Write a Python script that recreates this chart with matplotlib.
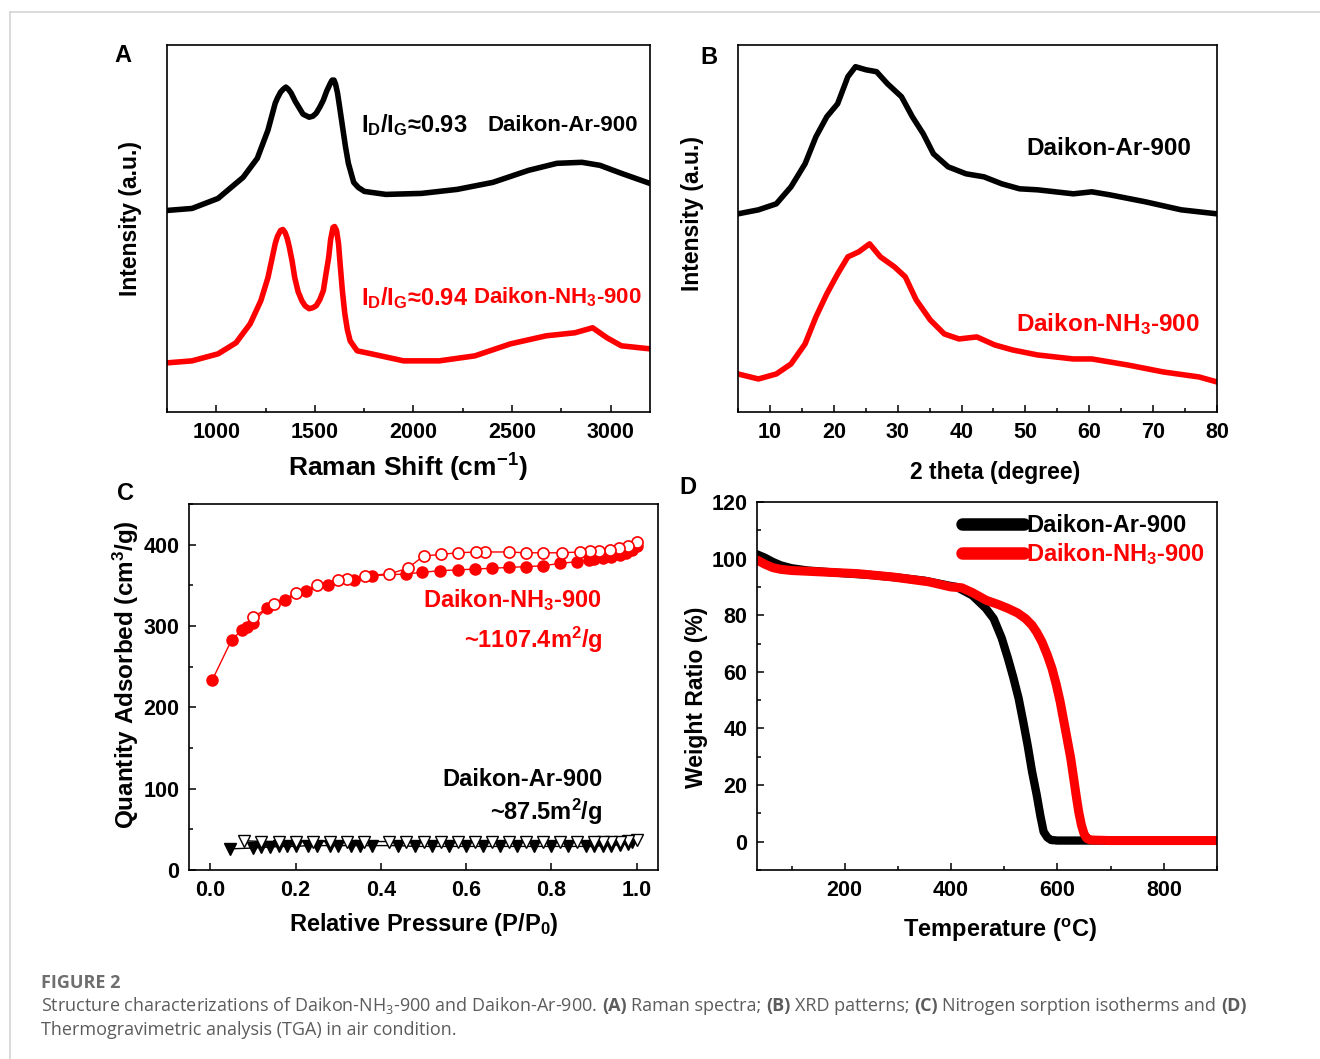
import matplotlib
matplotlib.use('Agg')
import matplotlib.pyplot as plt
from matplotlib.ticker import MultipleLocator, NullLocator, FormatStrFormatter
from matplotlib.lines import Line2D

plt.rcParams['font.family'] = ['Liberation Sans', 'DejaVu Sans']
plt.rcParams['font.weight'] = 'bold'
plt.rcParams['axes.labelweight'] = 'bold'
plt.rcParams['mathtext.default'] = 'regular'
plt.rcParams['axes.linewidth'] = 1.2

# ---- (A) Raman spectra, intensity in arbitrary units ----
raman_shift_ar = [750, 877, 1009, 1136, 1208, 1262, 1299, 1310, 1326, 1340, 1353, 1365,
                  1380, 1400, 1440, 1471, 1490, 1507, 1525, 1543, 1560, 1579, 1588, 1597,
                  1605, 1615, 1625, 1643, 1655, 1670, 1697, 1720, 1751, 1860, 2041, 2222,
                  2403, 2584, 2728, 2855, 2946, 3055, 3199]
raman_int_ar = [201, 203, 213, 234, 253, 281, 308, 313, 319, 322, 324, 322,
                318, 310, 297, 294, 295, 298, 304, 311, 320, 328, 331, 331,
                327, 318, 305, 281, 265, 248, 229, 224, 220, 217, 218, 222,
                229, 241, 248, 249, 246, 238, 228]
raman_shift_nh3 = [750, 877, 1009, 1100, 1172, 1226, 1262, 1299, 1310, 1326, 1338, 1349,
                   1360, 1371, 1385, 1398, 1415, 1434, 1450, 1471, 1490, 1507, 1525, 1543,
                   1555, 1570, 1580, 1592, 1600, 1610, 1620, 1628, 1640, 1652, 1665, 1679,
                   1700, 1715, 1787, 1950, 2131, 2312, 2493, 2674, 2819, 2909, 2982, 3055,
                   3199]
raman_int_nh3 = [49, 51, 58, 69, 88, 111, 134, 168, 175, 181, 182, 179,
                 173, 164, 150, 134, 120, 111, 106, 103, 104, 106, 112, 121,
                 136, 154, 172, 184, 185, 181, 168, 148, 120, 98, 82, 71,
                 65, 61, 58, 51, 51, 56, 68, 76, 79, 84, 74, 66,
                 63]

# ---- (B) XRD patterns ----
theta_ar = [5, 8.2, 11, 13.3, 15.5, 17.2, 18.9, 20.6, 22.2, 23.4, 25, 26.7, 28.4, 30.6,
            32.3, 34, 35.6, 37.9, 40.7, 43.5, 46.3, 49.1, 51.9, 57.5, 60.4, 63.2, 68.8,
            74.4, 80]
xrd_ar = [198, 202, 208, 225, 248, 275, 295, 308, 335, 345, 342, 340, 328, 315,
          295, 278, 258, 245, 238, 235, 228, 223, 222, 218, 220, 217, 210,
          202, 198]
theta_nh3 = [5, 8.2, 11, 13.3, 15.5, 17.2, 18.9, 20.6, 22.2, 23.9, 25.6, 27.3, 29.5,
             31.2, 32.9, 35.1, 37.3, 39.6, 42.4, 45.2, 48, 51.9, 57.5, 60.4, 66, 71.6,
             77.2, 80]
xrd_nh3 = [38, 33, 38, 48, 68, 95, 118, 138, 155, 160, 168, 155, 145,
           135, 112, 92, 78, 73, 75, 67, 62, 57, 53, 53, 47, 40,
           35, 30]

# ---- (C) N2 sorption isotherms ----
p_ads_nh3 = [0.005, 0.05, 0.074, 0.086, 0.099, 0.132, 0.174, 0.225, 0.275, 0.338, 0.38,
             0.46, 0.497, 0.539, 0.58, 0.62, 0.66, 0.70, 0.74, 0.78, 0.82, 0.86, 0.887,
             0.90, 0.92, 0.94, 0.96, 0.975, 0.99, 1.0]
q_ads_nh3 = [234, 283, 295, 299, 304, 322, 332, 343, 351, 357, 362,
             364, 366, 368, 369, 370, 371, 372, 373, 374, 377, 379, 381,
             382, 383, 385, 387, 390, 394, 398]
p_des_nh3 = [1.0, 0.98, 0.958, 0.937, 0.912, 0.89, 0.866, 0.824, 0.78, 0.74, 0.70, 0.644,
             0.623, 0.58, 0.54, 0.50, 0.463, 0.42, 0.363, 0.32, 0.30, 0.25, 0.20, 0.15,
             0.10]
q_des_nh3 = [403, 398, 396, 394, 392, 392, 391, 390, 390, 390, 391, 391,
             391, 390, 388, 386, 371, 364, 362, 358, 357, 350, 340, 327,
             311]
p_ads_ar = [0.045, 0.10, 0.12, 0.14, 0.16, 0.18, 0.20, 0.23, 0.25, 0.28, 0.30, 0.33,
            0.35, 0.38, 0.44, 0.48, 0.52, 0.56, 0.60, 0.64, 0.68, 0.72, 0.76, 0.80,
            0.84, 0.88, 0.90, 0.92, 0.94, 0.96, 0.98, 0.99]
q_ads_ar = [26, 27, 28, 28, 29, 29, 29, 30, 30, 30, 30, 30,
            30, 30, 30, 29, 29, 29, 29, 29, 29, 29, 29, 29,
            29, 29, 29, 30, 30, 31, 32, 34]
p_des_ar = [1.0, 0.98, 0.96, 0.94, 0.92, 0.90, 0.86, 0.82, 0.78, 0.74, 0.70, 0.66,
            0.62, 0.58, 0.54, 0.50, 0.46, 0.42, 0.36, 0.32, 0.28, 0.24, 0.20, 0.16,
            0.12, 0.08]
q_des_ar = [37, 36, 35, 35, 35, 35, 35, 35, 35, 35, 35, 35,
            35, 35, 35, 35, 35, 35, 35, 35, 35, 35, 35, 35,
            35, 36]

# ---- (D) TGA ----
temp_ar = [35, 50, 65, 80, 100, 130, 200, 250, 300, 350, 400, 410, 440, 465, 480, 495,
           507, 517, 527, 536, 544, 552, 561, 568, 574, 581, 588, 600, 700, 800, 900]
weight_ar = [101.5, 100.3, 98.8, 97.6, 96.6, 95.8, 94.8, 94.2, 93.3, 92.2, 90.3, 90, 87,
             82.5, 78.8, 72, 64.7, 58, 50.6, 42, 34, 25, 16.5, 9, 3.5, 1.5, 0.6, 0.4,
             0.4, 0.4, 0.4]
temp_nh3 = [35, 50, 65, 80, 100, 156, 224, 291, 358, 399, 420, 440, 466, 490, 507, 525,
            540, 552, 561, 571, 581, 590, 598, 605, 611, 618, 625, 630, 635, 640, 645,
            650, 655, 662, 700, 800, 900]
weight_nh3 = [99.5, 98, 96.8, 96.2, 95.8, 95.3, 94.7, 93.5, 91.8, 90, 89.7, 88, 85.3,
              83.7, 82.4, 80.8, 78.8, 76.5, 74, 70.5, 65.9, 61, 55.3, 49.5, 43.5, 36.5,
              29.4, 23, 16.5, 10.5, 5.9, 2.8, 1.2, 0.6, 0.4, 0.4, 0.4]

RED = '#ff0000'
W, H = 1320, 1059
fig = plt.figure(figsize=(W / 100, H / 100), dpi=100)


def box(l, t, r, b):
    return [l / W, 1 - b / H, (r - l) / W, (b - t) / H]


def fig_txt(x, y, s, **kw):
    return fig.text(x / W, 1 - y / H, s, **kw)


def style(ax, fs=15.5):
    ax.tick_params(which='both', direction='in', top=False, right=False, labelsize=fs, width=1.1)
    ax.tick_params(which='major', length=5, pad=7)
    ax.tick_params(which='minor', length=3)


def place_labels(ax, bx, xl, yl):
    l, t, r, b = bx
    ax.xaxis.set_label_coords((xl[0] - l) / (r - l), (b - xl[1]) / (b - t))
    ax.xaxis.label.set_va('center')
    ax.yaxis.set_label_coords((yl[0] - l) / (r - l), (b - yl[1]) / (b - t))
    ax.yaxis.label.set_va('center')


# panel A
bxA = (167, 45, 650, 412)
axA = fig.add_axes(box(*bxA))
axA.plot(raman_shift_ar, raman_int_ar, color='black', lw=4, solid_joinstyle='round')
axA.plot(raman_shift_nh3, raman_int_nh3, color=RED, lw=4, solid_joinstyle='round')
axA.set_xlim(750, 3200)
axA.set_ylim(0, 366)
axA.xaxis.set_major_locator(MultipleLocator(500))
axA.xaxis.set_minor_locator(MultipleLocator(250))
axA.yaxis.set_major_locator(NullLocator())
style(axA)
axA.set_xlabel('Raman Shift (cm$^{-1}$)', fontsize=19)
axA.set_ylabel('Intensity (a.u.)', fontsize=16.5)
place_labels(axA, bxA, (408, 468), (131, 218))
axA.text(1733, 286, 'I$_D$/I$_G$≈0.93', fontsize=17, va='center')
axA.text(2376, 286, 'Daikon-Ar-900', fontsize=16, va='center')
axA.text(1733, 114, 'I$_D$/I$_G$≈0.94', fontsize=17, va='center', color=RED)
axA.text(2303, 114, 'Daikon-NH$_3$-900', fontsize=16, va='center', color=RED)

# panel B
bxB = (738, 45, 1217, 412)
axB = fig.add_axes(box(*bxB))
axB.plot(theta_ar, xrd_ar, color='black', lw=4, solid_joinstyle='round')
axB.plot(theta_nh3, xrd_nh3, color=RED, lw=4, solid_joinstyle='round')
axB.set_xlim(5, 80)
axB.set_ylim(0, 366.7)
axB.xaxis.set_major_locator(MultipleLocator(10))
axB.xaxis.set_minor_locator(MultipleLocator(5))
axB.yaxis.set_major_locator(NullLocator())
style(axB)
axB.set_xlabel('2 theta (degree)', fontsize=16.5)
axB.set_ylabel('Intensity (a.u.)', fontsize=16.5)
place_labels(axB, bxB, (995, 472), (693, 213))
axB.text(50.2, 263, 'Daikon-Ar-900', fontsize=17.5, va='center')
axB.text(48.5, 88, 'Daikon-NH$_3$-900', fontsize=17.5, va='center', color=RED)

# panel C
bxC = (189, 504, 658, 870)
axC = fig.add_axes(box(*bxC))
axC.plot(p_ads_nh3, q_ads_nh3, '-o', color=RED, lw=1, ms=8, mfc=RED, mec=RED)
axC.plot(p_des_nh3, q_des_nh3, '-o', color=RED, lw=1, ms=8, mfc='white', mec=RED, mew=1.2)
axC.plot(p_ads_ar, q_ads_ar, '-v', color='black', lw=1, ms=8, mfc='black', mec='black')
axC.plot(p_des_ar, q_des_ar, '-v', color='black', lw=1, ms=8, mfc='white', mec='black', mew=1)
axC.set_xlim(-0.05, 1.05)
axC.set_ylim(0, 450)
axC.xaxis.set_major_locator(MultipleLocator(0.2))
axC.xaxis.set_major_formatter(FormatStrFormatter('%.1f'))
axC.yaxis.set_minor_locator(MultipleLocator(50))
axC.set_yticks([0, 100, 200, 300, 400])
style(axC)
axC.set_xlabel('Relative Pressure (P/P$_0$)', fontsize=17)
axC.set_ylabel('Quantity Adsorbed (cm$^3$/g)', fontsize=17.5)
place_labels(axC, bxC, (424, 925), (126, 675))
axC.text(0.92, 332, 'Daikon-NH$_3$-900', fontsize=17, ha='right', va='center', color=RED)
axC.text(0.92, 283, '~1107.4m$^2$/g', fontsize=17, ha='right', va='center', color=RED)
axC.text(0.92, 111, 'Daikon-Ar-900', fontsize=17, ha='right', va='center')
axC.text(0.92, 72, '~87.5m$^2$/g', fontsize=17, ha='right', va='center')

# panel D
bxD = (757, 502, 1217, 870)
axD = fig.add_axes(box(*bxD))
axD.plot(temp_ar, weight_ar, color='black', lw=6, solid_capstyle='round',
         solid_joinstyle='round', label='Daikon-Ar-900')
axD.plot(temp_nh3, weight_nh3, color=RED, lw=6.5, solid_capstyle='round',
         solid_joinstyle='round', label='Daikon-NH$_3$-900')
axD.set_xlim(35, 900)
axD.set_ylim(-10, 120)
axD.xaxis.set_major_locator(MultipleLocator(200))
axD.xaxis.set_minor_locator(MultipleLocator(100))
axD.yaxis.set_major_locator(MultipleLocator(20))
axD.yaxis.set_minor_locator(MultipleLocator(10))
style(axD)
axD.set_xlabel('Temperature ($^{o}$C)', fontsize=17)
axD.set_ylabel('Weight Ratio (%)', fontsize=16.5)
place_labels(axD, bxD, (1000, 930), (697, 697))
leg = axD.legend(loc='upper right', frameon=False, fontsize=17, handlelength=2.6,
                 handletextpad=0.1, borderaxespad=0.1, labelspacing=0.2, labelcolor='linecolor')
for h in leg.legend_handles:
    h.set_linewidth(9)
    h.set_solid_capstyle('round')

for lab, (x, y) in zip('ABCD', [(123, 55), (709, 57), (125, 493), (688, 487)]):
    fig_txt(x, y, lab, fontsize=17, ha='center', va='center')

# outer page frame
fig.add_artist(Line2D([10 / W, 1], [1 - 12 / H, 1 - 12 / H], transform=fig.transFigure,
                      color='#d4d4d4', lw=1.2))
fig.add_artist(Line2D([10 / W, 10 / W], [1 - 12 / H, 0], transform=fig.transFigure,
                      color='#d4d4d4', lw=1.2))

# caption
renderer = fig.canvas.get_renderer()
CAP = dict(family=['Open Sans', 'DejaVu Sans'], fontsize=13, color='#5c5c5c')


def width_of(s, weight):
    t = fig.text(0, 0, s, weight=weight, **CAP)
    w = t.get_window_extent(renderer).width
    t.remove()
    return w


def caption_line(x, y, pieces):
    sp = {wt: width_of('a a', wt) - width_of('aa', wt) for wt in ('normal', 'bold')}
    for s, wt in pieces:
        core = s.strip()
        lead = len(s) - len(s.lstrip())
        trail = len(s) - len(s.rstrip())
        x += lead * sp[wt]
        t = fig_txt(x, y, core, ha='left', va='baseline', weight=wt, **CAP)
        x += t.get_window_extent(renderer).width + trail * sp[wt]


fig_txt(41, 988, 'FIGURE 2', ha='left', va='baseline', weight='bold',
        family=['Open Sans', 'DejaVu Sans'], fontsize=13, color='#6e6e6e')
caption_line(41, 1011, [('Structure characterizations of Daikon-NH$_3$-900 and Daikon-Ar-900. ', 'normal'),
                        ('(A)', 'bold'), (' Raman spectra; ', 'normal'),
                        ('(B)', 'bold'), (' XRD patterns; ', 'normal'),
                        ('(C)', 'bold'), (' Nitrogen sorption isotherms and ', 'normal'),
                        ('(D)', 'bold')])
caption_line(41, 1035, [('Thermogravimetric analysis (TGA) in air condition.', 'normal')])

fig.savefig('out.png', dpi=100, facecolor='white')
